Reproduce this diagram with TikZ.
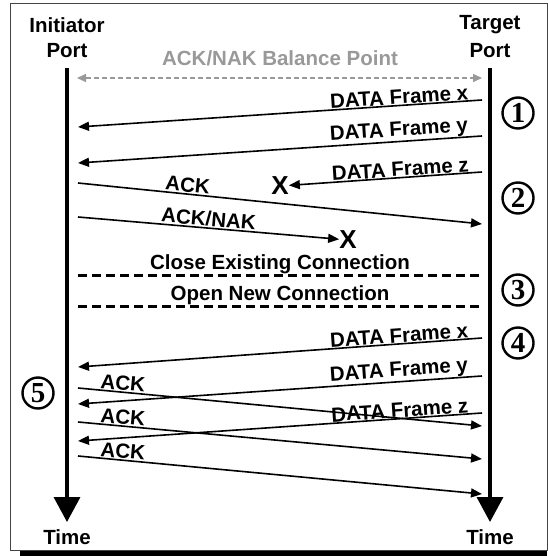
\documentclass[tikz,border=0pt]{standalone}
\usepackage{fontspec}
\setmainfont{Liberation Sans}
\newfontfamily\circfont{Liberation Serif}
\definecolor{ltgray}{HTML}{999999}
\definecolor{framegray}{HTML}{444444}
\usetikzlibrary{arrows.meta}

\begin{document}
\begin{tikzpicture}[x=1pt,y=-1pt,
  lbl/.style={font=\fontsize{20.5}{22}\selectfont\bfseries,inner sep=1pt},
  msg/.style={line width=1.6pt,-{Triangle[length=11pt,width=9pt]}},
  lifeline/.style={line width=3.5pt,-{Triangle[length=25pt,width=26pt]}},
  balance/.style={ltgray,line width=1.5pt,dash pattern=on 5pt off 3pt,{Triangle[length=9pt,width=8pt]}-{Triangle[length=9pt,width=8pt]}},
  conn/.style={line width=3pt,dash pattern=on 9pt off 5pt},
  lost/.style={font=\fontsize{26}{26}\selectfont\bfseries,inner sep=0pt},
  stepno/.style={circle,draw,line width=2.4pt,minimum size=31pt,inner sep=0pt,font=\circfont\fontsize{29}{29}\selectfont\bfseries}]
\useasboundingbox (0,0) rectangle (547,556);
\draw[framegray,line width=.6pt] (10,3) rectangle (547,550);
\fill (20,551) rectangle (547,556);
% ports and time axes
\node[lbl] (ini) at (67,25) {Initiator};
\node[lbl] (iniport) at (67,51) {Port};
\node[lbl] (tgt) at (490,25) {Target};
\node[lbl] (tgtport) at (490,51) {Port};
\node[lbl] (initime) at (67,537) {Time};
\node[lbl] (tgttime) at (490,537) {Time};
\coordinate (itop) at (67,68); \coordinate (ibot) at (67,522);
\coordinate (ttop) at (490,68); \coordinate (tbot) at (490,522);
\draw[lifeline] (itop) -- (ibot);
\draw[lifeline] (ttop) -- (tbot);
% balance point
\coordinate (bl) at (77,78); \coordinate (br) at (482,78);
\draw[balance] (bl) -- (br);
\node[lbl,text=ltgray] (bal) at (280,58) {ACK/NAK Balance Point};
% data frames
\foreach \n/\yr/\yl/\t in {dx/100/127/x,dy/136/163/y,ex/338/367/x,ey/376/404/y,ez/413/441/z} {
  \coordinate (r\n) at (482,\yr);
  \coordinate (l\n) at (78,\yl);
  \draw[msg] (r\n) -- (l\n);
  \path (l\n) -- (r\n) node[lbl,pos=.97,sloped,anchor=south east] {DATA Frame \t};
}
\coordinate (rdz) at (482,172);
\node[lost] (xdz) at (280,186) {X};
\draw[msg] (rdz) -- (xdz);
\path (xdz) -- (rdz) node[lbl,pos=.94,sloped,anchor=south east] {DATA Frame z};
% acknowledgements
\foreach \n/\yl/\yr/\p in {ka/183/224/.21,kb/388/426/.05,kc/422/459/.05,kd/456/494/.05} {
  \coordinate (l\n) at (78,\yl);
  \coordinate (r\n) at (482,\yr);
  \draw[msg] (l\n) -- (r\n) node[lbl,pos=\p,sloped,anchor=south west] {ACK};
}
\coordinate (lkn) at (78,217);
\node[lost] (xkn) at (348,240) {X};
\draw[msg] (lkn) -- (xkn) node[lbl,pos=.31,sloped,anchor=south west] {ACK/NAK};
% connection change
\coordinate (cl) at (78,275); \coordinate (cr) at (482,275);
\draw[conn] (cl) -- (cr) node[lbl,midway,anchor=south,inner sep=0pt] {Close Existing Connection};
\coordinate (ol) at (78,306); \coordinate (or) at (482,306);
\draw[conn] (ol) -- (or) node[lbl,midway,anchor=south,inner sep=0pt] {Open New Connection};
% step numbers
\node[stepno] (s1) at (518,113) {1};
\node[stepno] (s2) at (518,198) {2};
\node[stepno] (s3) at (518,290) {3};
\node[stepno] (s4) at (518,343) {4};
\node[stepno] (s5) at (38,393) {5};
\end{tikzpicture}
\end{document}
